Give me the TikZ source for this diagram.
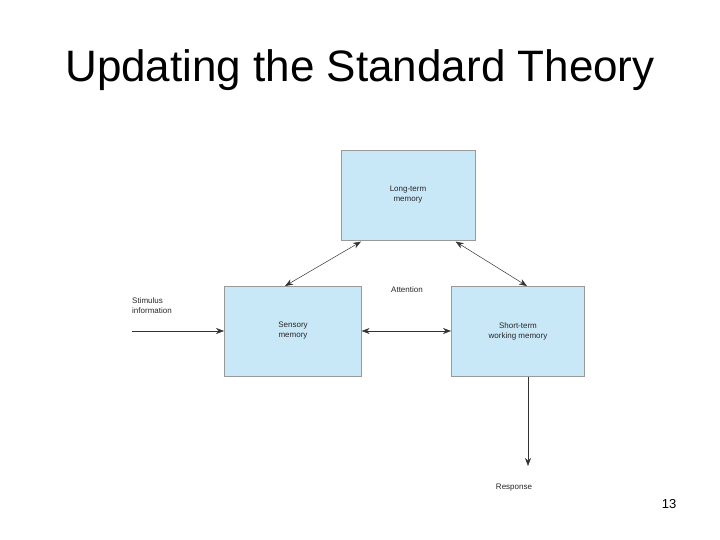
\documentclass[tikz,border=0pt]{standalone}
\usepackage{fontspec}
\setmainfont{Liberation Sans}
\usetikzlibrary{arrows.meta}
\definecolor{boxblue}{HTML}{C8E8F8}
\begin{document}
\begin{tikzpicture}[x=1pt,y=-1pt,
  mem/.style={draw=gray!80,fill=boxblue,line width=0.6pt,anchor=north west,inner sep=0pt},
  lbl/.style={font=\fontsize{8}{10}\selectfont,inner sep=0pt,text=black!85},
  conn/.style={draw=black!80,line width=0.5pt,-{Stealth[length=8pt,width=6pt]}},
  bconn/.style={conn,{Stealth[length=8pt,width=6pt]}-{Stealth[length=8pt,width=6pt]}}]
\useasboundingbox (0,0) rectangle (720,540);
\node[font=\fontsize{44}{50}\selectfont] (title) at (360,70) {Updating the Standard Theory};
\node[mem,minimum width=134pt,minimum height=90pt] (ltm) at (341,150) {};
\node[lbl,align=center] (ltmt) at (408,195) {Long-term\\memory};
\node[mem,minimum width=137pt,minimum height=90pt] (sen) at (224,286) {};
\node[lbl,align=center] (sent) at (293,331) {Sensory\\memory};
\node[mem,minimum width=133pt,minimum height=90pt] (stm) at (451,286) {};
\node[lbl,align=center] (stmt) at (518,331) {Short-term\\working memory};
\node[lbl] (att) at (407,290) {Attention};
\node[lbl,align=left,anchor=west] (stim) at (132,306) {Stimulus\\information};
\node[lbl] (resp) at (514,488) {Response};
\coordinate (sfree) at (132,331);
\coordinate (rfree) at (528,466);
\node[font=\fontsize{13}{15}\selectfont] (pg) at (669,504) {13};
\draw[bconn] ([xshift=20pt,yshift=-1pt]ltm.south west) -- ([xshift=61pt]sen.north west);
\draw[bconn] ([xshift=-20pt,yshift=-1pt]ltm.south east) -- ([xshift=76pt]stm.north west);
\draw[bconn] (sen.east |- 0,331) -- (stm.west |- 0,331);
\draw[conn] (sfree) -- (sen.west |- sfree);
\draw[conn] (stm.south -| rfree) -- (rfree);
\end{tikzpicture}
\end{document}
